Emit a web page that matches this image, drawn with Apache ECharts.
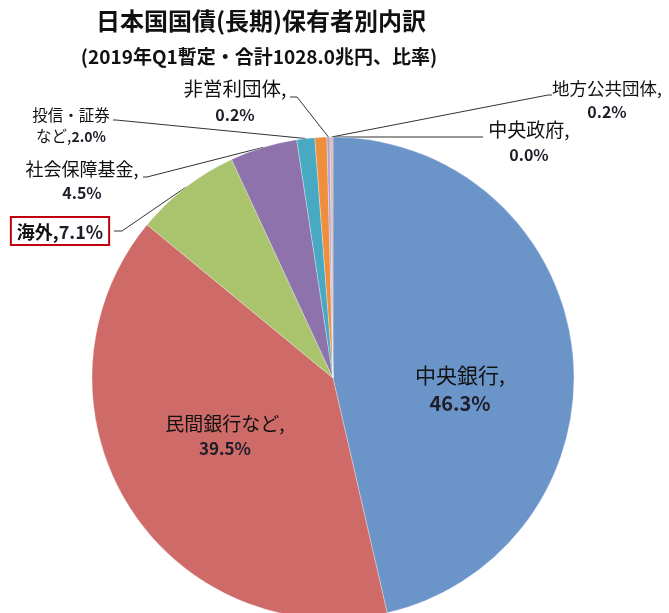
<!DOCTYPE html>
<html>
<head>
<meta charset="utf-8">
<script src="https://cdn.jsdelivr.net/npm/echarts@6/dist/echarts.min.js"></script>
<style>
html,body{margin:0;padding:0;background:#fff;}
#c{width:669px;height:613px;}
</style>
</head>
<body>
<div id="c"></div>
<script>
// ---- data ----
const titleText = '日本国国債(長期)保有者別内訳';
const subtitleText = '(2019年Q1暫定・合計1028.0兆円、比率)';
const names  = ['中央政府', '中央銀行', '民間銀行など', '海外', '社会保障基金', '投信', '証券など', '非営利団体', '地方公共団体'];
const values = [0.0, 46.3, 39.5, 7.1, 4.5, 1.2, 0.8, 0.2, 0.2];
// label text shown per slice (投信 + 証券など are labelled together)
const labelNames = ['中央政府', '中央銀行', '民間銀行など', '海外', '社会保障基金', '投信・証券\nなど', '', '非営利団体', '地方公共団体'];
const labelGroups = [[0], [1], [2], [3], [4], [5, 6], [], [7], [8]];

// ---- styles / layout (kept out of data) ----
const colors = ['#c9c9e0', '#6b95c9', '#ce6a67', '#a9c46d', '#8e72ab', '#47a9c2', '#ef8e3c', '#aaa2d4', '#e2b8b0'];
const FONT = '"Noto Sans CJK JP", "Noto Sans", sans-serif';
const labelBox = [
  {x: 529, y: 142, align: 'center', line: [[483, 137], [483, 137]], n: 19, v: 16},
  {x: 460, y: 389, align: 'center', line: null, n: 21, v: 20},
  {x: 225, y: 436, align: 'center', line: null, n: 19, v: 17},
  {x: 60,  y: 231, align: 'center', line: [[122, 231], [114, 231]], n: 18, v: 18, boxed: true},
  {x: 82,  y: 181, align: 'center', line: [[147, 177], [143, 177]], n: 18, v: 16},
  {x: 71,  y: 126, align: 'center', line: [[116, 120], [113, 120]], n: 15.5, v: 14},
  null,
  {x: 235, y: 102, align: 'center', line: [[297, 97], [290, 97]], n: 19.5, v: 16},
  {x: 607, y: 100, align: 'center', line: [[548, 95], [552, 95]], n: 17.5, v: 16}
];

function pctText(i) {
  let s = 0;
  labelGroups[i].forEach(function (k) { s += values[k]; });
  return s.toFixed(1) + '%';
}

const data = names.map(function (nm, i) {
  const lb = labelBox[i];
  const item = {name: nm, value: values[i], itemStyle: {color: colors[i]}};
  if (!lb) {
    item.label = {show: false};
    item.labelLine = {show: false};
    return item;
  }
  let fmt;
  const nameParts = labelNames[i].split('\n');
  if (lb.boxed) {
    fmt = '{n|' + labelNames[i] + ',}{v|' + pctText(i) + '}';
  } else if (nameParts.length > 1) {
    fmt = '{n|' + nameParts[0] + '}\n{n|' + nameParts[1] + ',}{v|' + pctText(i) + '}';
  } else {
    fmt = '{n|' + labelNames[i] + ',}\n{v|' + pctText(i) + '}';
  }
  item.label = {
    show: true,
    formatter: fmt,
    align: 'center',
    rich: {
      n: {fontFamily: FONT, fontSize: lb.n, color: '#111', lineHeight: Math.round(lb.n * 1.33)},
      v: {fontFamily: FONT, fontSize: lb.v, fontWeight: 'bold', color: '#1e1e2a', lineHeight: Math.round(lb.n * 1.33)}
    }
  };
  if (lb.boxed) {
    item.label.borderColor = '#c0000c';
    item.label.borderWidth = 2;
    item.label.backgroundColor = '#fff';
    item.label.padding = [2, 5, 0, 5];
    item.label.rich.n.fontWeight = 'bold';
  }
  item.labelLine = {show: !!lb.line};
  return item;
});

const chart = echarts.init(document.getElementById('c'), null, {renderer: 'canvas'});
chart.setOption({
  backgroundColor: '#fff',
  animation: false,
  graphic: [
    {type: 'text', x: 261, y: 9, style: {text: titleText, x: 0, y: 0, align: 'center', fontFamily: FONT, fontSize: 24, fontWeight: 'bold', fill: '#111'}},
    {type: 'text', x: 259, y: 47, style: {text: subtitleText, x: 0, y: 0, align: 'center', fontFamily: FONT, fontSize: 19, fontWeight: 'bold', fill: '#111'}}
  ],
  series: [{
    type: 'pie',
    center: [333, 378],
    radius: 241,
    startAngle: 90,
    clockwise: true,
    avoidLabelOverlap: false,
    minShowLabelAngle: 0,
    itemStyle: {borderColor: 'rgba(255,255,255,0.6)', borderWidth: 0.5},
    label: {show: true, position: 'outside'},
    labelLine: {show: true, length: 10, length2: 10, lineStyle: {color: '#333', width: 1}},
    emphasis: {disabled: true},
    labelLayout: function (p) {
      const lb = labelBox[p.dataIndex];
      if (!lb) return {};
      const out = {x: lb.x, y: lb.y, align: lb.align, verticalAlign: 'middle'};
      if (lb.line && p.labelLinePoints) {
        const pts = p.labelLinePoints;
        out.labelLinePoints = [pts[0], lb.line[0], lb.line[1]];
      }
      return out;
    },
    data: data
  }]
});
</script>
</body>
</html>
